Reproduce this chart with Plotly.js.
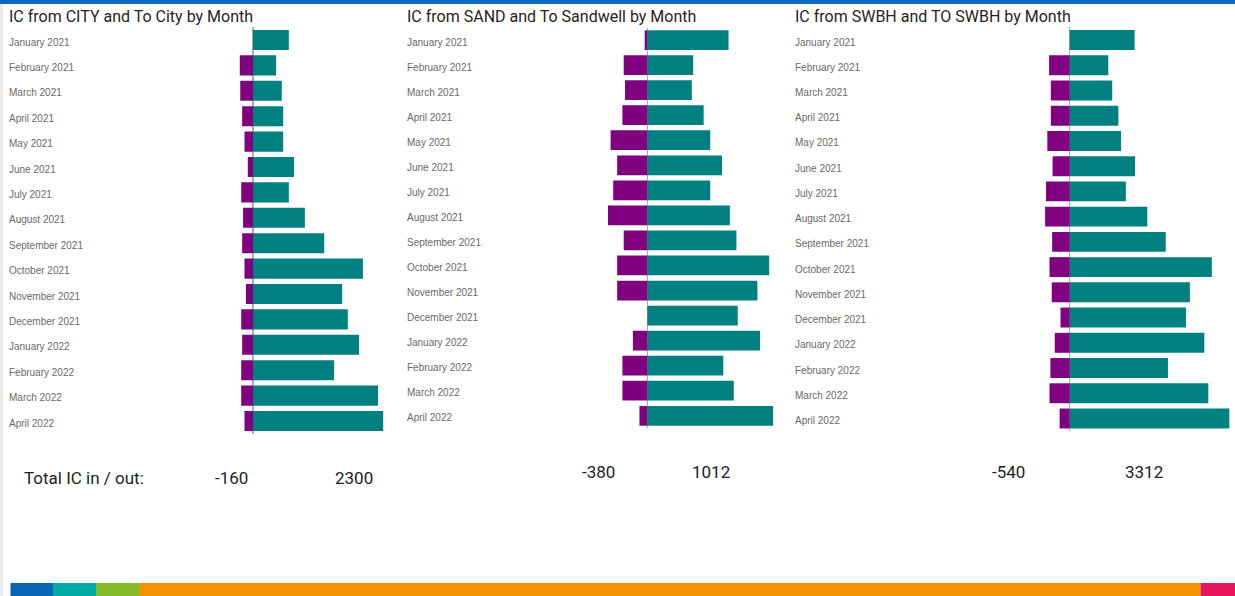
<!DOCTYPE html>
<html>
<head>
<meta charset="utf-8">
<script src="https://cdn.plot.ly/plotly-3.0.1.min.js"></script>
<style>
html,body{margin:0;padding:0;background:#fff;}
#chart{width:1235px;height:596px;}
</style>
</head>
<body>
<div id="chart"></div>
<script>
// ---- Data ----
const months = ["January 2021","February 2021","March 2021","April 2021","May 2021","June 2021","July 2021","August 2021","September 2021","October 2021","November 2021","December 2021","January 2022","February 2022","March 2022","April 2022"];

const chartTitles = ["IC from CITY and To City by Month","IC from SAND and To Sandwell by Month","IC from SWBH and TO SWBH by Month"];

const cityIn  = [76,49,61,64,64,87,76,110,151,233,189,201,225,172,265,276];
const cityOut = [null,-28,-27,-23,-18,-11,-25,-21,-23,-18,-15,-25,-23,-25,-25,-18];

const sandIn  = [62,35,34,43,48,57,48,63,68,93,84,69,86,58,66,96];
const sandOut = [-2,-18,-17,-19,-28,-23,-26,-30,-18,-23,-23,null,-11,-19,-19,-6];

const swbhIn  = [148,88,97,111,117,149,128,177,219,324,274,265,307,224,316,364];
const swbhOut = [null,-47,-43,-43,-51,-39,-54,-56,-40,-46,-41,-21,-34,-44,-46,-23];

const totalLabel = "Total IC in / out:";
const totalsOut = ["-160","-380","-540"];
const totalsIn  = ["2300","1012","3312"];

// ---- Layout helpers ----
const W = 1235, H = 596;
const TEAL = "#008080", PURPLE = "#800080";
const py = p => 1 - p / H;
const px = p => p / W;

// x0/x1: panel pixel extent, zero: pixel of value 0, scale: value units per pixel
const panels = [
  {inV: cityIn, outV: cityOut, x0: 6,   x1: 390,  zero: 253.0,  scale: 2.12,  top: 27.3, bot: 433.7, titleX: 9},
  {inV: sandIn, outV: sandOut, x0: 404, x1: 785,  zero: 647.3,  scale: 0.763, top: 27.5, bot: 428.3, titleX: 407},
  {inV: swbhIn, outV: swbhOut, x0: 792, x1: 1232, zero: 1069.7, scale: 2.28,  top: 27.4, bot: 431.1, titleX: 795}
];

const data = [];
const layout = {
  width: W, height: H,
  margin: {l:0, r:0, t:0, b:0},
  paper_bgcolor: "#ffffff",
  plot_bgcolor: "rgba(0,0,0,0)",
  barmode: "relative",
  bargap: 0.21,
  showlegend: false,
  font: {family: "Liberation Sans, Arial, sans-serif"},
  annotations: [],
  shapes: []
};

panels.forEach((p, i) => {
  const n = i === 0 ? "" : String(i + 1);
  const xa = "x" + n, ya = "y" + n;
  data.push({
    type: "bar", orientation: "h", y: months, x: p.inV,
    xaxis: xa, yaxis: ya,
    marker: {color: TEAL, line: {width: 0}},
    hoverinfo: "x+y"
  });
  data.push({
    type: "bar", orientation: "h", y: months, x: p.outV,
    xaxis: xa, yaxis: ya,
    marker: {color: PURPLE, line: {width: 0}},
    hoverinfo: "x+y"
  });
  layout["xaxis" + n] = {
    domain: [px(p.x0), px(p.x1)],
    range: [-(p.zero - p.x0) * p.scale, (p.x1 - p.zero) * p.scale],
    anchor: ya,
    showgrid: false, showticklabels: false, ticks: "",
    showline: false,
    zeroline: true, zerolinecolor: "#ababab", zerolinewidth: 1.5,
    fixedrange: true
  };
  layout["yaxis" + n] = {
    domain: [py(p.bot), py(p.top)],
    anchor: xa,
    type: "category",
    categoryorder: "array", categoryarray: months,
    autorange: "reversed",
    showgrid: false, showline: false, zeroline: false,
    ticks: "",
    ticklabelposition: "inside",
    ticklabelstandoff: 0,
    ticklabelshift: -2,
    tickfont: {family: "Liberation Sans, Arial, sans-serif", size: 10, color: "#6b6967"},
    fixedrange: true
  };
  // title
  layout.annotations.push({
    text: chartTitles[i], xref: "paper", yref: "paper",
    x: px(p.titleX - 2), y: py(17), xanchor: "left", yanchor: "middle",
    showarrow: false,
    font: {family: "Roboto, sans-serif", size: 16, color: "#252423"}
  });
});

// totals
const totalsX = [[231, 354], [598, 711], [1008, 1144]];
const totalsY = [478, 472, 472];
layout.annotations.push({
  text: totalLabel, xref: "paper", yref: "paper",
  x: px(22), y: py(478), xanchor: "left", yanchor: "middle", showarrow: false,
  font: {family: "Roboto, sans-serif", size: 17, color: "#222222"}
});
totalsOut.forEach((t, i) => {
  layout.annotations.push({
    text: t, xref: "paper", yref: "paper",
    x: px(totalsX[i][0]), y: py(totalsY[i]), xanchor: "center", yanchor: "middle", showarrow: false,
    font: {family: "Roboto, sans-serif", size: 17, color: "#222222"}
  });
  layout.annotations.push({
    text: totalsIn[i], xref: "paper", yref: "paper",
    x: px(totalsX[i][1]), y: py(totalsY[i]), xanchor: "center", yanchor: "middle", showarrow: false,
    font: {family: "Roboto, sans-serif", size: 17, color: "#222222"}
  });
});

// decorative frame: top blue rule, left grey edge, bottom colour strip
const rect = (x0, x1, y0, y1, c) => ({
  type: "rect", xref: "paper", yref: "paper", layer: "below",
  x0: px(x0), x1: px(x1), y0: py(y1), y1: py(y0),
  fillcolor: c, line: {width: 0}
});
layout.shapes.push(rect(0, W, 0, 4, "#0f67bf"));
layout.shapes.push(rect(0, 3, 4, H, "#ececec"));
layout.shapes.push(rect(10.5, 53, 583, H, "#0865b5"));
layout.shapes.push(rect(53, 96, 583, H, "#00aaa5"));
layout.shapes.push(rect(96, 139, 583, H, "#84bb2d"));
layout.shapes.push(rect(139, 1200.5, 583, H, "#f39200"));
layout.shapes.push(rect(1200.5, W, 583, H, "#e8175d"));

Plotly.newPlot("chart", data, layout, {displayModeBar: false, staticPlot: true});
</script>
</body>
</html>
